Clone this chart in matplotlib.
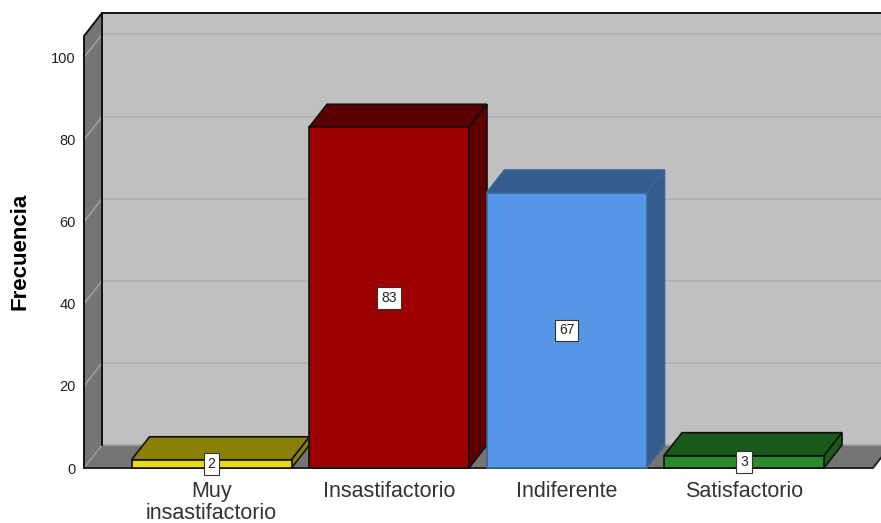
import matplotlib
matplotlib.use("Agg")
import matplotlib.pyplot as plt
from matplotlib.patches import Polygon

categories = ["Muy\ninsastifactorio", "Insastifactorio", "Indiferente", "Satisfactorio"]
values = [2, 83, 67, 3]
y_ticks = [0, 20, 40, 60, 80, 100]
front_colors = ["#e6dc0a", "#9c0000", "#5596e6", "#2a8a2a"]
top_colors = ["#8a8008", "#5a0000", "#345c8c", "#1a5a1a"]
side_colors = ["#8a8008", "#5f0000", "#345c8c", "#1a5a1a"]
edge_colors = ["#111111", "#111111", "#3a6595", "#111111"]

W, H = 881, 523
px_per_cat = 177.5
px_per_val = 4.105
cat0_px = 211.5
left_px, bottom_px, top_px = 84, 468, 8
dx = 18 / px_per_cat
dy = 23 / px_per_val
bar_w = 160 / px_per_cat

plt.rcParams["font.family"] = ["Liberation Sans", "DejaVu Sans"]
fig = plt.figure(figsize=(W / 100, H / 100), dpi=100, facecolor="white")
ax = fig.add_axes([left_px / W, (H - bottom_px) / H, (W - left_px) / W, (bottom_px - top_px) / H])
xmin = (left_px - cat0_px) / px_per_cat
xmax = (W - cat0_px) / px_per_cat
ax.set_xlim(xmin, xmax)
ax.set_ylim(0, (bottom_px - top_px) / px_per_val)
ax.patch.set_alpha(0)
for s in ax.spines.values():
    s.set_visible(False)

y_top = (bottom_px - 36) / px_per_val
x_end = (873 - cat0_px) / px_per_cat


def poly(pts, fc, ec="none", lw=0, z=1):
    ax.add_patch(Polygon(pts, closed=True, facecolor=fc, edgecolor=ec, linewidth=lw,
                         zorder=z, clip_on=False, joinstyle="miter"))


# Back wall, left wall, floor
poly([(xmin + dx, dy), (xmax + 1, dy), (xmax + 1, y_top + dy), (xmin + dx, y_top + dy)], "#c0c0c0")
poly([(xmin, 0), (xmin + dx, dy), (xmin + dx, y_top + dy), (xmin, y_top)], "#757575")
poly([(xmin, 0), (x_end, 0), (x_end + dx, dy), (xmin + dx, dy)], "#757575")

# Grid
for v in y_ticks[1:]:
    ax.plot([xmin, xmin + dx], [v, v + dy], color="#a0a0a0", lw=1.1, zorder=2, clip_on=False)
    ax.plot([xmin + dx, xmax], [v + dy, v + dy], color="#b2b2b2", lw=1.4, zorder=2, clip_on=False)
ax.plot([xmin, xmin + dx], [0, dy], color="#9a9a9a", lw=1.0, zorder=2)
ax.plot([xmin + dx, xmax], [dy, dy], color="#a4a4a4", lw=1.2, zorder=2)

# Frame
ax.plot([xmin, xmin, xmin + dx, xmax], [0, y_top, y_top + dy, y_top + dy], color="#111111", lw=1.4, zorder=3,
        clip_on=False, solid_joinstyle="miter")
ax.plot([xmin + dx, xmin + dx], [dy, y_top + dy], color="#111111", lw=1.4, zorder=3, clip_on=False)
ax.plot([xmin, x_end, x_end + dx], [0, 0, dy], color="#222222", lw=1.4, zorder=3, clip_on=False)

# Bars
for i, (v, fc, tc, sc, ec) in enumerate(zip(values, front_colors, top_colors, side_colors, edge_colors)):
    z = 4 + i
    l, r = i - bar_w / 2, i + bar_w / 2
    poly([(l, v), (r, v), (r + dx, v + dy), (l + dx, v + dy)], tc, ec, 1.2, z)
    poly([(r, 0), (r + dx, dy), (r + dx, v + dy), (r, v)], sc, ec, 1.2, z)
    poly([(l, 0), (r, 0), (r, v), (l, v)], fc, ec, 1.2, z)

# Value labels
for i, v in enumerate(values):
    ax.text(i, v / 2, str(v), ha="center", va="center", fontsize=10, color="#222222", zorder=20,
            bbox=dict(boxstyle="square,pad=0.28", facecolor="white", edgecolor="#333333", linewidth=0.8))

ax.set_xticks(range(len(categories)))
ax.set_xticklabels(categories, fontsize=15.5, color="#333333", linespacing=1.08)
ax.set_yticks(y_ticks)
ax.set_yticklabels([str(t) for t in y_ticks], fontsize=10.5, color="#222222")
ax.tick_params(axis="x", length=0, pad=9.5)
ax.tick_params(axis="y", length=0, pad=6)
for lab in ax.get_yticklabels():
    lab.set_y(lab.get_position()[1])

fig.text(20 / W, 1 - 251 / H, "Frecuencia", rotation=90, ha="center", va="center",
         fontsize=16, fontweight="bold", color="black")

fig.savefig("out.png", dpi=100, facecolor="white")
